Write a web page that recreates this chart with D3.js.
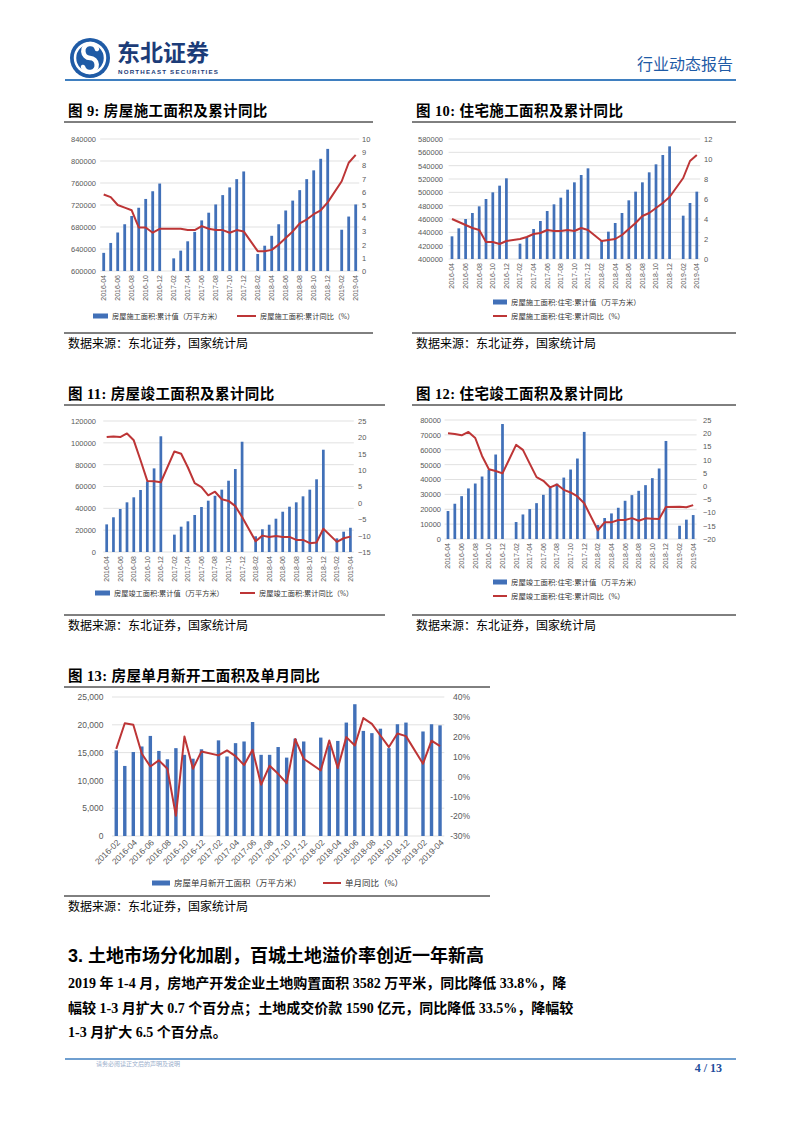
<!DOCTYPE html>
<html>
<head>
<meta charset="utf-8">
<script src="https://cdn.jsdelivr.net/npm/d3@7"></script>
<style>
body { margin: 0; background: #fff; }
svg { display: block; }
</style>
</head>
<body>
<svg id="page" width="802" height="1133"></svg>
<script>
// ---- data ----
const months = ["2016-04","2016-05","2016-06","2016-07","2016-08","2016-09","2016-10","2016-11","2016-12",
  "2017-01","2017-02","2017-03","2017-04","2017-05","2017-06","2017-07","2017-08","2017-09","2017-10","2017-11","2017-12",
  "2018-01","2018-02","2018-03","2018-04","2018-05","2018-06","2018-07","2018-08","2018-09","2018-10","2018-11","2018-12",
  "2019-01","2019-02","2019-03","2019-04"];
const months13 = ["2016-02","2016-03","2016-04","2016-05","2016-06","2016-07","2016-08","2016-09","2016-10","2016-11","2016-12",
  "2017-01","2017-02","2017-03","2017-04","2017-05","2017-06","2017-07","2017-08","2017-09","2017-10","2017-11","2017-12",
  "2018-01","2018-02","2018-03","2018-04","2018-05","2018-06","2018-07","2018-08","2018-09","2018-10","2018-11","2018-12",
  "2019-01","2019-02","2019-03","2019-04"];

// fig 9 房屋施工面积
const constrArea = [633000,651000,670000,685000,700000,715000,731000,745000,759000,null,
  623000,637000,654000,671000,692000,706000,721000,738000,752000,767000,781000,null,
  631000,646000,664000,685000,710000,728000,747000,767000,783000,804000,822000,null,
  675000,699000,721000];
const constrYoy = [5.8,5.6,5.0,4.8,4.6,3.3,3.3,2.9,3.2,null,
  3.2,3.2,3.1,3.1,3.4,3.2,3.1,3.1,2.9,3.1,3.0,null,
  1.5,1.5,1.6,2.0,2.5,3.0,3.6,3.9,4.3,4.6,5.2,null,
  6.8,8.2,8.8];

// fig 10 住宅施工面积
const resConstrArea = [434000,446000,460000,469000,479000,490000,500000,510000,521000,null,
  423000,433000,445000,457000,472000,482000,492000,504000,515000,526000,536000,null,
  427000,441000,454000,469000,488000,501000,515000,530000,542000,556000,569000,null,
  465000,484000,501000];
const resConstrYoy = [4.0,3.7,3.4,3.1,2.9,1.7,1.7,1.5,1.8,null,
  2.0,2.2,2.5,2.6,2.9,2.8,2.8,2.9,2.8,3.1,2.9,null,
  1.8,1.9,2.0,2.4,3.0,3.6,4.3,4.6,5.1,5.6,6.2,null,
  8.1,9.8,10.4];

// fig 11 房屋竣工面积
const complArea = [25300,31800,39400,45500,50100,56800,64700,76600,106000,null,
  15900,23200,28100,33900,41200,47000,51500,57100,65300,76000,101000,null,
  14400,20800,25000,30500,36900,41500,45500,51000,57100,66600,93700,null,
  12500,18600,22200];
const complYoy = [20.1,20.3,20.1,21.2,19.1,13.0,6.7,6.6,6.3,null,
  15.7,15.0,10.8,6.0,4.8,2.3,3.4,1.1,0.6,-1.0,-4.3,null,
  -11.7,-10.0,-10.4,-10.1,-10.4,-10.4,-11.3,-11.3,-12.3,-12.1,-7.9,null,
  -11.9,-10.8,-10.3];

// fig 12 住宅竣工面积
const resComplArea = [18800,23700,28800,34000,37300,42000,46500,56800,77300,null,
  11400,16500,20100,24100,29700,34400,37200,41300,46700,54100,72000,null,
  9400,14100,17200,21000,25700,29500,32400,36200,40900,47400,65900,null,
  8900,13000,16100];
const resComplYoy = [20.0,19.7,19.2,20.5,18.2,11.4,6.4,5.7,4.8,null,
  15.6,13.7,8.5,3.4,2.0,-0.5,0.6,-1.4,-2.4,-3.9,-6.5,null,
  -16.7,-13.7,-13.7,-12.8,-12.8,-12.1,-13.1,-12.2,-12.3,-12.4,-7.9,null,
  -7.8,-8.0,-7.2];

// fig 13 房屋单月新开工面积
const newStartArea = [15400,12600,15100,16100,18000,15300,13800,15800,14600,13900,15600,null,
  17200,14300,16700,17000,20500,14600,14600,16000,14100,17500,17000,null,
  17700,16300,17100,20400,23700,18900,18500,19300,15800,20100,20400,null,
  18800,20100,19900];
const newStartYoy = [13.9,26.8,26.0,11.4,5.0,8.1,3.9,-19.8,20.1,3.9,12.6,null,
  10.6,13.1,10.2,5.7,13.4,-4.2,5.4,1.3,-3.4,18.8,8.9,null,
  3.0,18.1,4.2,19.8,15.6,29.4,26.5,20.6,14.8,21.6,20.3,null,
  6.4,18.0,15.3];

// axis ticks
const ticks9L = [600000,640000,680000,720000,760000,800000,840000];
const ticks9R = [0,1,2,3,4,5,6,7,8,9,10];
const ticks10L = [400000,420000,440000,460000,480000,500000,520000,540000,560000,580000];
const ticks10R = [0,2,4,6,8,10,12];
const ticks11L = [0,20000,40000,60000,80000,100000,120000];
const ticks11R = [-15,-10,-5,0,5,10,15,20,25];
const ticks12L = [0,10000,20000,30000,40000,50000,60000,70000,80000];
const ticks12R = [-20,-15,-10,-5,0,5,10,15,20,25];
const ticks13L = [0,5000,10000,15000,20000,25000];
const ticks13R = [-30,-20,-10,0,10,20,30,40];
const xTicks = months.filter((m, i) => i % 2 === 0);
const xTicks13 = months13.filter((m, i) => i % 2 === 0);

// ---- drawing ----
const BLUE = "#4170b8", RED = "#bd3536";
const CJK = "'Liberation Serif', 'Noto Sans CJK SC', serif";
const NUM = "'Liberation Sans', Arial, sans-serif";
const svg = d3.select("#page");

function drawChart(o) {
    const g = svg.append("g");
    const x = d3.scaleBand().domain(o.cats).range([o.x0, o.x1]).paddingInner(0.6).paddingOuter(0.3);
    const yL = d3.scaleLinear().domain(d3.extent(o.lTicks)).range([o.yB, o.yT]);
    const yR = d3.scaleLinear().domain(d3.extent(o.rTicks)).range([o.yB, o.yT]);

    // title + rules
    g.append("text").attr("x", o.tx).attr("y", o.ty)
        .attr("font-family", CJK).attr("font-weight", "bold").attr("font-size", 14.5)
        .attr("letter-spacing", 0.4)
        .text(o.title);
    g.append("line").attr("x1", o.tx - 4).attr("x2", o.rule).attr("y1", o.ty + 6).attr("y2", o.ty + 6)
        .attr("stroke", "#000").attr("stroke-width", 1);
    g.append("line").attr("x1", o.tx - 4).attr("x2", o.rule).attr("y1", o.srcY - 15).attr("y2", o.srcY - 15)
        .attr("stroke", "#000").attr("stroke-width", 1);
    g.append("text").attr("x", o.tx).attr("y", o.srcY)
        .attr("font-family", CJK).attr("font-size", 12)
        .text("数据来源：东北证券，国家统计局");

    // grid
    g.append("g").selectAll("line").data(o.lTicks).join("line")
        .attr("x1", o.x0).attr("x2", o.x1)
        .attr("y1", d => yL(d)).attr("y2", d => yL(d))
        .attr("stroke", "#d9d9d9").attr("stroke-width", 0.8);

    const rows = o.cats.map((c, i) => ({ c: c, b: o.bars[i], l: o.line[i] }));

    // bars
    g.append("g").selectAll("rect").data(rows.filter(d => d.b != null)).join("rect")
        .attr("x", d => x(d.c))
        .attr("width", x.bandwidth())
        .attr("y", d => yL(d.b))
        .attr("height", d => o.yB - yL(d.b))
        .attr("fill", BLUE);

    // line (January gaps are bridged)
    const line = d3.line()
        .x(d => x(d.c) + x.bandwidth() / 2)
        .y(d => yR(d.l));
    g.append("path").datum(rows.filter(d => d.l != null))
        .attr("d", line)
        .attr("fill", "none")
        .attr("stroke", RED)
        .attr("stroke-width", 2)
        .attr("stroke-linejoin", "round");

    // left axis
    const axL = g.append("g").attr("transform", "translate(" + o.x0 + ",0)")
        .call(d3.axisLeft(yL).tickValues(o.lTicks).tickSize(0)
            .tickPadding(o.x0 - o.lLabelX).tickFormat(o.lFmt));
    axL.select(".domain").remove();
    axL.selectAll("text").attr("font-size", o.fs).attr("font-family", NUM).attr("fill", "#595959");

    // right axis
    const axR = g.append("g").attr("transform", "translate(" + o.x1 + ",0)")
        .call(d3.axisRight(yR).tickValues(o.rTicks).tickSize(0)
            .tickPadding(o.rLabelX - o.x1).tickFormat(o.rFmt));
    axR.select(".domain").remove();
    axR.selectAll("text").attr("font-size", o.fs).attr("font-family", NUM).attr("fill", "#595959");
    if (o.rAnchorEnd) axR.selectAll("text").attr("text-anchor", "end");

    // x axis
    const axX = g.append("g").attr("transform", "translate(0," + o.yB + ")")
        .call(d3.axisBottom(x).tickValues(o.xTicks).tickSize(0));
    axX.select(".domain").remove();
    const xt = axX.selectAll("text").attr("font-size", o.xfs).attr("font-family", NUM).attr("fill", "#595959")
        .attr("text-anchor", "end");
    if (o.rot === -90) {
        xt.attr("transform", "rotate(-90)").attr("x", -4).attr("y", 0).attr("dy", "0.35em");
    } else {
        xt.attr("transform", "rotate(-45)").attr("x", -2).attr("y", 5).attr("dy", "0.35em");
    }

    // legend
    o.legend.forEach(it => {
        if (it.kind === "bar") {
            g.append("rect").attr("x", it.x).attr("y", it.y - 2.5).attr("width", it.w).attr("height", 5)
                .attr("fill", BLUE);
        } else {
            g.append("line").attr("x1", it.x).attr("x2", it.x + it.w).attr("y1", it.y).attr("y2", it.y)
                .attr("stroke", RED).attr("stroke-width", 2);
        }
        g.append("text").attr("x", it.x + it.w + 4).attr("y", it.y).attr("dy", "0.35em")
            .attr("font-family", CJK).attr("font-size", o.lgfs).attr("fill", "#333")
            .text(it.text);
    });
}

const fmtInt = d3.format("d");

drawChart({
    title: "图 9: 房屋施工面积及累计同比", tx: 68, ty: 116, rule: 373, srcY: 348,
    cats: months, bars: constrArea, line: constrYoy,
    x0: 100.2, x1: 359.2, yT: 139, yB: 271,
    lTicks: ticks9L, rTicks: ticks9R, lFmt: fmtInt, rFmt: fmtInt,
    lLabelX: 96, rLabelX: 362, fs: 7.5, xfs: 7, rot: -90, xTicks: xTicks, lgfs: 7.2,
    legend: [
        { kind: "bar", x: 93, y: 316, w: 15, text: "房屋施工面积:累计值（万平方米）" },
        { kind: "line", x: 237, y: 316, w: 19, text: "房屋施工面积:累计同比（%）" }
    ]
});

drawChart({
    title: "图 10: 住宅施工面积及累计同比", tx: 416, ty: 116, rule: 736, srcY: 348,
    cats: months, bars: resConstrArea, line: resConstrYoy,
    x0: 448.6, x1: 700.2, yT: 139, yB: 259,
    lTicks: ticks10L, rTicks: ticks10R, lFmt: fmtInt, rFmt: fmtInt,
    lLabelX: 443, rLabelX: 704, fs: 7.5, xfs: 7, rot: -90, xTicks: xTicks, lgfs: 7.4,
    legend: [
        { kind: "bar", x: 493, y: 302, w: 14, text: "房屋施工面积:住宅:累计值（万平方米）" },
        { kind: "line", x: 493, y: 316, w: 14, text: "房屋施工面积:住宅:累计同比（%）" }
    ]
});

drawChart({
    title: "图 11: 房屋竣工面积及累计同比", tx: 68, ty: 399, rule: 385, srcY: 630,
    cats: months, bars: complArea, line: complYoy,
    x0: 103.3, x1: 353.8, yT: 421, yB: 552,
    lTicks: ticks11L, rTicks: ticks11R, lFmt: fmtInt, rFmt: fmtInt,
    lLabelX: 96, rLabelX: 358, fs: 7.5, xfs: 7, rot: -90, xTicks: xTicks, lgfs: 7.2,
    legend: [
        { kind: "bar", x: 95, y: 593, w: 15, text: "房屋竣工面积:累计值（万平方米）" },
        { kind: "line", x: 240, y: 593, w: 15, text: "房屋竣工面积:累计同比（%）" }
    ]
});

drawChart({
    title: "图 12: 住宅竣工面积及累计同比", tx: 416, ty: 399, rule: 736, srcY: 630,
    cats: months, bars: resComplArea, line: resComplYoy,
    x0: 444.6, x1: 696.6, yT: 420, yB: 539,
    lTicks: ticks12L, rTicks: ticks12R, lFmt: fmtInt, rFmt: fmtInt,
    lLabelX: 441, rLabelX: 703, fs: 7.5, xfs: 7, rot: -90, xTicks: xTicks, lgfs: 7.4,
    legend: [
        { kind: "bar", x: 493, y: 582, w: 14, text: "房屋竣工面积:住宅:累计值（万平方米）" },
        { kind: "line", x: 493, y: 596, w: 14, text: "房屋竣工面积:住宅:累计同比（%）" }
    ]
});

drawChart({
    title: "图 13: 房屋单月新开工面积及单月同比", tx: 68, ty: 681, rule: 490, srcY: 911,
    cats: months13, bars: newStartArea, line: newStartYoy,
    x0: 112, x1: 444.3, yT: 697, yB: 836,
    lTicks: ticks13L, rTicks: ticks13R, lFmt: d3.format(","), rFmt: d => d + "%",
    lLabelX: 103.5, rLabelX: 470, rAnchorEnd: true, fs: 8.5, xfs: 8.5, rot: -45, xTicks: xTicks13, lgfs: 8.5,
    legend: [
        { kind: "bar", x: 152, y: 883, w: 18, text: "房屋单月新开工面积（万平方米）" },
        { kind: "line", x: 323, y: 883, w: 18, text: "单月同比（%）" }
    ]
});

// ---- header ----
const hdr = svg.append("g");
hdr.append("circle").attr("cx", 90).attr("cy", 58).attr("r", 20).attr("fill", "#1f5ba6");
hdr.append("circle").attr("cx", 90).attr("cy", 58).attr("r", 15).attr("fill", "none")
    .attr("stroke", "#fff").attr("stroke-width", 2.5);
hdr.append("path").attr("d", "M97,49 A7,7 0 1 0 90,58 A7,7 0 1 1 83,67")
    .attr("fill", "none").attr("stroke", "#fff").attr("stroke-width", 4.5).attr("stroke-linecap", "round");
hdr.append("text").attr("x", 117).attr("y", 61)
    .attr("font-family", "'Noto Sans CJK SC', sans-serif").attr("font-weight", "bold").attr("font-size", 23)
    .attr("fill", "#1c3c78").text("东北证券");
hdr.append("text").attr("x", 118).attr("y", 73.5)
    .attr("font-family", NUM).attr("font-weight", "bold").attr("font-size", 6.2)
    .attr("textLength", 100).attr("fill", "#1c3c78").text("NORTHEAST SECURITIES");
hdr.append("text").attr("x", 733).attr("y", 70).attr("text-anchor", "end")
    .attr("font-family", "'Noto Sans CJK SC', sans-serif").attr("font-size", 16)
    .attr("fill", "#1f5ba6").text("行业动态报告");
hdr.append("line").attr("x1", 65).attr("x2", 736).attr("y1", 80).attr("y2", 80)
    .attr("stroke", "#3f7fc0").attr("stroke-width", 1.8);

// ---- body text ----
const body = svg.append("g").attr("font-family", CJK).attr("font-weight", "bold");
body.append("text").attr("x", 68).attr("y", 962).attr("font-size", 18)
    .attr("font-family", "'Liberation Sans', 'Noto Sans CJK SC', sans-serif")
    .text("3.  土地市场分化加剧，百城土地溢价率创近一年新高");
const para = [
    "2019 年 1-4 月，房地产开发企业土地购置面积 3582 万平米，同比降低 33.8%，降",
    "幅较 1-3 月扩大 0.7 个百分点；土地成交价款 1590 亿元，同比降低 33.5%，降幅较",
    "1-3 月扩大 6.5 个百分点。"
];
body.selectAll("text.p").data(para).join("text").attr("class", "p")
    .attr("x", 68).attr("y", (d, i) => 988 + i * 24.5).attr("font-size", 14)
    .text(d => d);

// ---- footer ----
svg.append("line").attr("x1", 65).attr("x2", 736).attr("y1", 1059).attr("y2", 1059)
    .attr("stroke", "#3f7fc0").attr("stroke-width", 1.5);
svg.append("text").attr("x", 96).attr("y", 1066).attr("font-family", CJK).attr("font-size", 6)
    .attr("fill", "#9aaecb").text("请务必阅读正文后的声明及说明");
svg.append("text").attr("x", 722).attr("y", 1072).attr("text-anchor", "end")
    .attr("font-family", "'Liberation Serif', serif").attr("font-weight", "bold").attr("font-size", 12)
    .attr("fill", "#1f4e9c").text("4 / 13");
</script>
</body>
</html>
